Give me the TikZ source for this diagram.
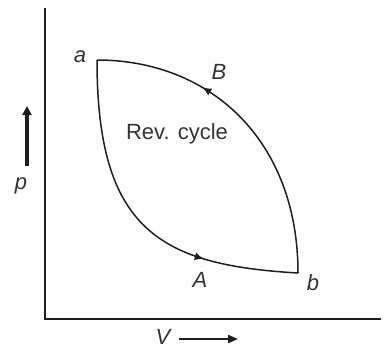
\documentclass[tikz,border=0pt]{standalone}
\usepackage{fontspec}
\setmainfont{Liberation Sans}
\usetikzlibrary{arrows.meta, positioning, decorations.markings}
\definecolor{cycink}{HTML}{1E1E1E}
\definecolor{cycgray}{HTML}{333333}

\begin{document}
\begin{tikzpicture}[x=1pt, y=-1pt,
  lbl/.style={font=\fontsize{22}{24}\selectfont\itshape, text=cycgray, inner sep=0pt},
  curve/.style={draw=cycink, line width=1.5pt},
  midarrow/.style={postaction={decorate}, decoration={markings,
      mark=at position #1 with {\arrow{Latex[length=9pt,width=8pt]}}}}]
  \useasboundingbox (0,0) rectangle (385,351);
  % axes
  \coordinate (ytop) at (45,8);
  \coordinate (o) at (45,319);
  \coordinate (xend) at (381,319);
  \draw[cycink, line width=2.4pt] (ytop) -- (o) -- (xend);
  % state points
  \coordinate (a) at (97,60);
  \coordinate (b) at (298,273);
  % process A: a -> b, process B: b -> a
  \draw[curve, midarrow=0.72] (a) .. controls (97,230) and (160,265) .. (b);
  \draw[curve, midarrow=0.665] (b) .. controls (298,140) and (210,60) .. (a);
  \node[lbl] (la) at (80,57) {a};
  \node[lbl] (lb) at (313,283) {b};
  \node[lbl] (lA) at (200,280) {A};
  \node[lbl] (lB) at (219,72) {B};
  \node[font=\fontsize{22}{24}\selectfont, text=cycgray, inner sep=0pt] (rev) at (177,134) {Rev. cycle};
  % axis labels
  \coordinate (pfoot) at (27,166);
  \coordinate (phead) at (27,106);
  \draw[-{Triangle[length=9pt,width=9pt]}, line width=3.8pt, cycink] (pfoot) -- (phead);
  \node[lbl] (lp) at (21,186) {p};
  \node[lbl] (lV) at (163,337) {V};
  \coordinate (vfoot) at (179,339);
  \coordinate (vhead) at (238,339);
  \draw[-{Triangle[length=10pt,width=8pt]}, line width=2pt, cycink] (vfoot) -- (vhead);
\end{tikzpicture}
\end{document}
